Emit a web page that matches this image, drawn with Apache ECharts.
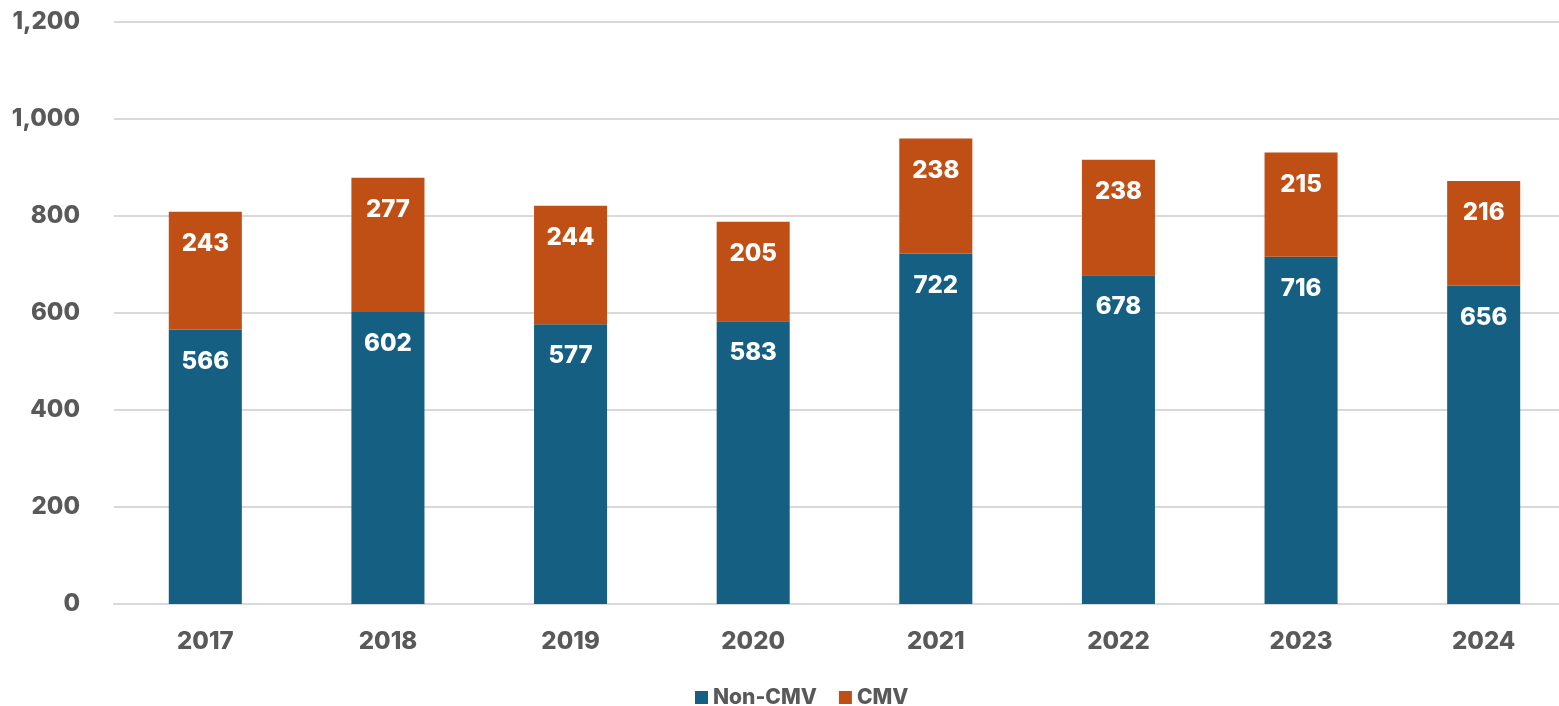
<!DOCTYPE html>
<html>
<head>
<meta charset="utf-8">
<script src="https://cdn.jsdelivr.net/npm/echarts@6/dist/echarts.min.js"></script>
<style>
  html, body { margin: 0; padding: 0; background: #fff; }
  #chart { width: 1559px; height: 706px; }
</style>
</head>
<body>
<div id="chart"></div>
<script>
const years = ['2017', '2018', '2019', '2020', '2021', '2022', '2023', '2024'];
const nonCmv = [566, 602, 577, 583, 722, 678, 716, 656];
const cmv = [243, 277, 244, 205, 238, 238, 215, 216];

const chart = echarts.init(document.getElementById('chart'));

const labelStyle = {
  show: true,
  position: 'insideTop',
  distance: 20,
  color: '#fff',
  fontFamily: 'Inter, "Noto Sans", sans-serif',
  fontWeight: 800,
  fontSize: 24
};

chart.setOption({
  animation: false,
  textStyle: { fontFamily: 'Inter, "Noto Sans", sans-serif' },
  grid: { left: 114, width: 1461, top: 22, bottom: 102, outerBoundsMode: 'none' },
  legend: {
    bottom: -7,
    left: 690,
    itemWidth: 13,
    itemHeight: 13,
    itemGap: 22,
    icon: 'rect',
    textStyle: { color: '#595959', fontSize: 21, fontWeight: 800 },
    data: ['Non-CMV', 'CMV']
  },
  xAxis: {
    type: 'category',
    data: years,
    axisLine: { lineStyle: { color: '#d9d9d9', width: 2 } },
    axisTick: { show: false },
    axisLabel: { color: '#595959', fontSize: 24, fontWeight: 800, margin: 26 }
  },
  yAxis: {
    type: 'value',
    min: 0,
    max: 1200,
    interval: 200,
    axisLine: { show: false },
    axisTick: { show: false },
    splitLine: { lineStyle: { color: '#d9d9d9', width: 2 } },
    axisLabel: {
      color: '#595959', fontSize: 24, fontWeight: 800, margin: 34,
      formatter: v => v.toLocaleString('en-US')
    }
  },
  series: [
    {
      name: 'Non-CMV',
      type: 'bar',
      stack: 'total',
      data: nonCmv,
      barWidth: '40%',
      itemStyle: { color: '#156082' },
      label: labelStyle
    },
    {
      name: 'CMV',
      type: 'bar',
      stack: 'total',
      data: cmv,
      barWidth: '40%',
      itemStyle: { color: '#C04F15' },
      label: labelStyle
    }
  ]
});
</script>
</body>
</html>
